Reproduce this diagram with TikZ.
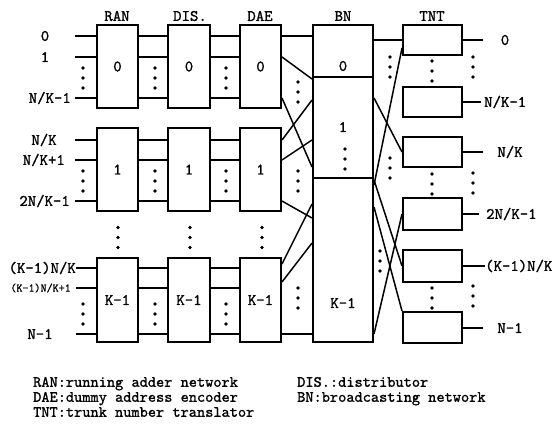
\documentclass[tikz,border=0pt]{standalone}
\usepackage{fontspec}
\setmonofont{lmmono10-regular.otf}[FakeBold=1.2]
\newcommand\mylbl{\ttfamily\fontsize{16bp}{18bp}\selectfont}
\newcommand\myleg{\ttfamily\fontsize{15.6bp}{17bp}\selectfont}
\newcommand\mysmall{\ttfamily\fontsize{11.5bp}{13bp}\selectfont}
\begin{document}
\begin{tikzpicture}[x=1bp,y=-1bp,
  box/.style={draw,line width=2bp,inner sep=0,minimum width=41bp,minimum height=83bp,font=\mylbl},
  sect/.style={draw,line width=2bp,inner sep=0,minimum width=60bp},
  tbox/.style={draw,line width=2bp,inner sep=0,minimum width=59bp,minimum height=30bp},
  wire/.style={line width=1.5bp},
  lbl/.style={font=\mylbl,inner sep=0},
  leg/.style={font=\myleg,inner sep=0,anchor=west,text height=10bp,text depth=2.5bp},
  dts/.pic={\fill (0,-10) circle (1.9); \fill (0,0) circle (1.9); \fill (0,10) circle (1.9);}
]
\useasboundingbox (0,0) rectangle (558,427);
% column titles
\node[lbl] (tran) at (117,16) {RAN};
\node[lbl] (tdis) at (190,16) {DIS.};
\node[lbl] (tdae) at (260,16) {DAE};
\node[lbl] (tbn)  at (343,16) {BN};
\node[lbl] (ttnt) at (432,16) {TNT};
% RAN / DIS / DAE boxes
\node[box] (ran0) at (117.5,66.5) {0};
\node[box,minimum width=42bp] (dis0) at (189,66.5) {0};
\node[box] (dae0) at (260.5,66.5) {0};
\node[box] (ran1) at (117.5,169.5) {1};
\node[box,minimum width=42bp] (dis1) at (189,169.5) {1};
\node[box] (dae1) at (260.5,169.5) {1};
\node[box,minimum height=84bp] (ranK) at (117.5,300) {K-1};
\node[box,minimum width=42bp,minimum height=84bp] (disK) at (189,300) {K-1};
\node[box,minimum height=84bp] (daeK) at (260.5,300) {K-1};
% BN
\node[sect,minimum height=52bp] (bn0) at (343,51) {};
\node[sect,minimum height=101bp] (bn1) at (343,127.5) {};
\node[sect,minimum height=164bp] (bnK) at (343,260) {};
\node[lbl] (bn0l) at (343,66) {0};
\node[lbl] (bn1l) at (343,127) {1};
\node[lbl] (bnKl) at (343,303) {K-1};
% TNT
\node[tbox] (t0) at (432.5,40) {};
\node[tbox] (t1) at (432.5,102) {};
\node[tbox] (t2) at (432.5,152) {};
\node[tbox,minimum height=32bp] (t3) at (432.5,214) {};
\node[tbox,minimum height=32bp] (t4) at (432.5,266) {};
\node[tbox,minimum height=31bp] (t5) at (432.5,327.5) {};
% input coordinates
\coordinate (r0a) at (75,36);
\coordinate (r0b) at (75,57);
\coordinate (r0c) at (75,98);
\coordinate (r1a) at (75,140);
\coordinate (r1b) at (75,160);
\coordinate (r1c) at (75,201);
\coordinate (rKa) at (76,268);
\coordinate (rKb) at (76,288);
\coordinate (rKc) at (76,334);
\foreach \r/\g in {r0a/0,r0b/0,r0c/0,r1a/1,r1b/1,r1c/1,rKa/K,rKb/K,rKc/K}{
  \draw[wire] (\r) -- (\r -| ran\g.west);
  \draw[wire] (\r -| ran\g.east) -- (\r -| dis\g.west);
  \draw[wire] (\r -| dis\g.east) -- (\r -| dae\g.west);
}
% input labels
\node[lbl] (l0a) at (45,36) {0};
\node[lbl] (l0b) at (45,57) {1};
\node[lbl,anchor=east] (l0c) at (71,98) {N/K-1};
\node[lbl] (l1a) at (44,140) {N/K};
\node[lbl,anchor=east] (l1b) at (65,160) {N/K+1};
\node[lbl,anchor=east] (l1c) at (70,201) {2N/K-1};
\node[lbl,anchor=east] (lKa) at (76,268) {(K-1)N/K};
\node[inner sep=0,font=\mysmall,anchor=east] (lKb) at (71,288) {(K-1)N/K+1};
\node[lbl] (lKc) at (40,334) {N-1};
% DAE -> BN
\draw[wire] (dae0.east |- 0,36) -- (bn0.west |- 0,36);
\draw[wire] (dae0.east |- 0,57) -- (bn1.west |- 0,79);
\draw[wire] (dae0.east |- 0,98) -- (bn1.west |- 0,167);
\draw[wire] (dae1.east |- 0,140) -- (bn1.west |- 0,100);
\draw[wire] (dae1.east |- 0,160) -- (bn1.west |- 0,140);
\draw[wire] (dae1.east |- 0,201) -- (bnK.west |- 0,218);
\draw[wire] (daeK.east |- 0,264) -- (bnK.west |- 0,204);
\draw[wire] (daeK.east |- 0,282) -- (bnK.west |- 0,243);
\draw[wire] (daeK.east |- 0,334) -- (bnK.west |- 0,334);
% BN -> TNT
\draw[wire] (bn0.east |- 0,40) -- (t0.west);
\draw[wire] (bnK.east |- 0,185) -- (t0.west |- 0,48);
\draw[wire] (bn1.east |- 0,98) -- (t2.west);
\draw[wire] (bnK.east |- 0,180) -- (t4.west);
\draw[wire] (bnK.east |- 0,207) -- (t5.north west);
\draw[wire] (bnK.east |- 0,334) -- (t3.west);
% outputs
\coordinate (o0) at (483,40);
\coordinate (o1) at (481,102);
\coordinate (o2) at (483,152);
\coordinate (o3) at (479,214);
\coordinate (o4) at (485,266);
\coordinate (o5) at (483,328);
\draw[wire] (t0.east) -- (o0);
\draw[wire] (t1.east) -- (o1);
\draw[wire] (t2.east) -- (o2);
\draw[wire] (t3.east) -- (o3);
\draw[wire] (t4.east) -- (o4);
\draw[wire] (t5.east |- o5) -- (o5);
\node[lbl] (p0) at (505,40) {0};
\node[lbl,anchor=west] (p1) at (484,102) {N/K-1};
\node[lbl] (p2) at (510,152) {N/K};
\node[lbl,anchor=west] (p3) at (486,214) {2N/K-1};
\node[lbl,anchor=west] (p4) at (485,266) {(K-1)N/K};
\node[lbl] (p5) at (510,328) {N-1};
% dots
\foreach \x in {83,155,226}{
  \pic at (\x,78) {dts};
  \pic at (\x,181) {dts};
  \pic at (\x,314) {dts};
}
\foreach \x in {118,190,262}{ \pic at (\x,237.5) {dts}; }
\pic at (298,92) {dts};
\pic at (298,181) {dts};
\pic at (298,298) {dts};
\pic at (345,159) {dts};
\pic at (390,67) {dts};
\pic at (390,168) {dts};
\pic at (380,261) {dts};
\foreach \y/\z in {71/67,184/183,298/296}{
  \pic at (432,\y) {dts};
  \pic at (473,\z) {dts};
}
% legend
\node[leg] (g1) at (33,383) {RAN:running adder network};
\node[leg] (g2) at (33,398) {DAE:dummy address encoder};
\node[leg] (g3) at (33,413) {TNT:trunk number translator};
\node[leg] (g4) at (297,383) {DIS.:distributor};
\node[leg] (g5) at (297,398) {BN:broadcasting network};
\end{tikzpicture}
\end{document}
